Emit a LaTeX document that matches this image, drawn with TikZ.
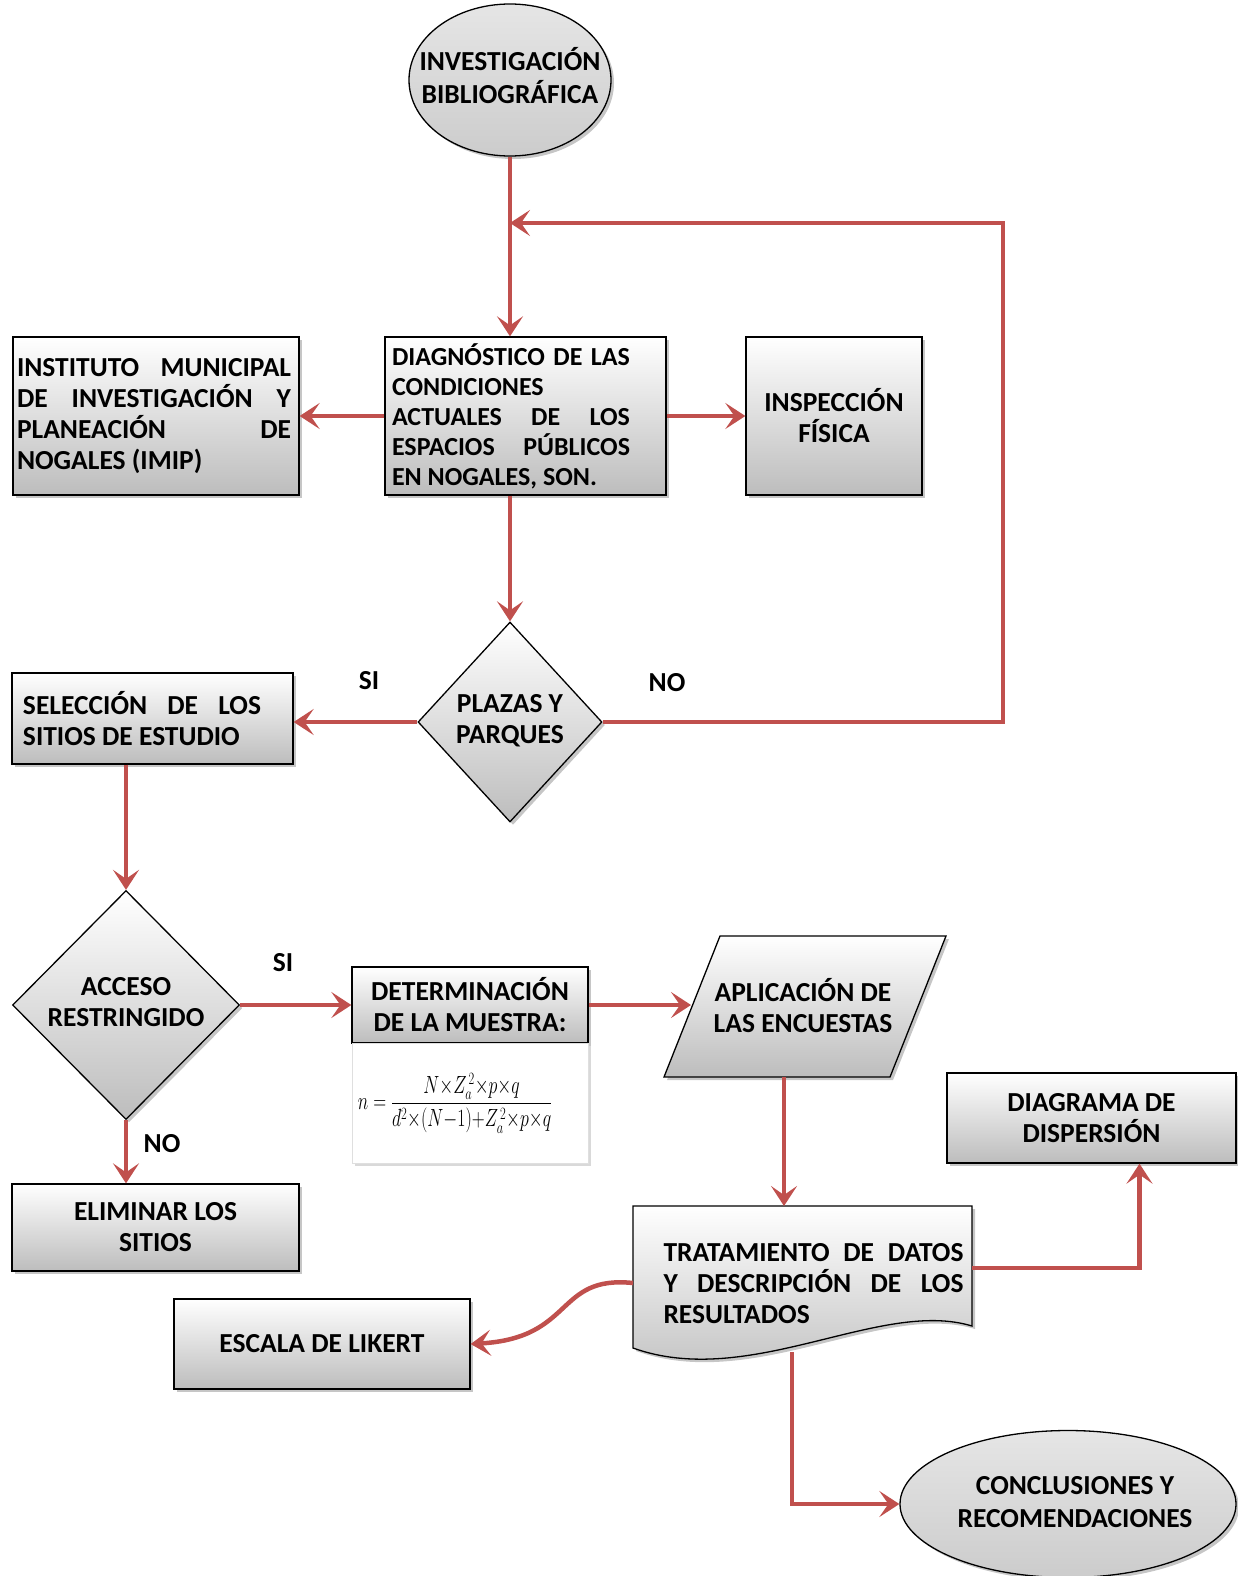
\documentclass[tikz,border=0pt]{standalone}
\usepackage{fontspec}
\setmainfont{Carlito}
\usepackage{amsmath}
\usepackage{graphicx}
\usetikzlibrary{shapes.geometric,arrows.meta,shadows}

\definecolor{arrowred}{RGB}{192,80,77}

% justified block of fixed width, last line left
\newcommand{\jtext}[2]{\parbox{#1}{\leftskip=0pt\rightskip=0pt\parfillskip=0pt plus 1fil\relax #2}}
% centred lines that do not widen the shape round them
\newcommand{\squeeze}[1]{\makebox[0pt]{\begin{tabular}{@{}c@{}}#1\end{tabular}}}

\tikzset{
  txt/.style={font=\fontsize{27.5}{31}\selectfont\bfseries, inner sep=0pt},
  base/.style={txt, draw=black, line width=1.3pt, top color=white, bottom color=gray!52,
    drop shadow={shadow xshift=3pt, shadow yshift=-3pt, opacity=.45}},
  box/.style={base, rectangle},
  oval/.style={base, ellipse, top color=gray!20, bottom color=gray!40,
    font=\fontsize{27.5}{33}\selectfont\bfseries},
  decision/.style={base, diamond},
  conn/.style={draw=arrowred, line width=4.5pt, -{Stealth[length=20pt,width=26pt,inset=9pt]}},
  lbl/.style={txt}
}

\begin{document}
\begin{tikzpicture}[x=1pt, y=-1pt]
    \useasboundingbox (0,0) rectangle (1238,1576);

    \node[oval, minimum width=202, minimum height=152] (inv) at (510,80) {\squeeze{INVESTIGACIÓN\\BIBLIOGRÁFICA}};

    \node[box, minimum width=286, minimum height=158] (imip) at (156,416)
        {\jtext{274pt}{INSTITUTO MUNICIPAL\linebreak DE INVESTIGACIÓN Y\linebreak PLANEACIÓN DE\linebreak NOGALES (IMIP)}\hspace*{4pt}};
    \node[box, minimum width=281, minimum height=158, font=\fontsize{26}{30}\selectfont\bfseries] (diag) at (525.5,416)
        {\jtext{238pt}{DIAGNÓSTICO DE LAS\linebreak CONDICIONES\newline ACTUALES DE LOS\linebreak ESPACIOS PÚBLICOS\linebreak EN NOGALES, SON.}\hspace*{29pt}};
    \node[box, align=center, minimum width=176, minimum height=158] (insp) at (834,416) {INSPECCIÓN\\FÍSICA};

    \node[decision, minimum width=184, minimum height=200] (plazas) at (510,722) {\squeeze{PLAZAS Y\\PARQUES}};
    \node[box, minimum width=281, minimum height=91] (sel) at (152.5,718.5)
        {\jtext{238pt}{SELECCIÓN DE LOS\linebreak SITIOS DE ESTUDIO}\hspace*{21pt}};
    \node[lbl] (si1) at (369,681) {SI};
    \node[lbl] (no1) at (667,683) {NO};

    \node[decision, minimum width=227, minimum height=229] (acceso) at (126,1005) {\squeeze{ACCESO\\RESTRINGIDO}};
    \node[lbl] (si2) at (283,963) {SI};
    \node[lbl] (no2) at (162,1144) {NO};

    \node[box, align=center, minimum width=236, minimum height=76] (det) at (470,1005) {DETERMINACIÓN\\DE LA MUESTRA:};
    \node[draw=gray!25, fill=white, drop shadow={shadow xshift=3pt, shadow yshift=-3pt, opacity=.3},
        minimum width=236, minimum height=120, font=\fontsize{26}{30}\selectfont] (form) at (470,1103)
        {\medmuskip=0mu\scalebox{0.72}[1]{$n=\dfrac{N\times Z_a^{\,2}\times p\times q}{d^2\times\left(N-1\right)+Z_a^{\,2}\times p\times q}$}\hspace*{30pt}};

    \path[base] (720,936) -- (946,936) -- (890,1077) -- (664,1077) -- cycle;
    \node[txt, align=center] (apl) at (803,1006) {APLICACIÓN DE\\LAS ENCUESTAS};
    \coordinate (aplL) at (691,1005);
    \coordinate (aplB) at (784,1077);

    \node[box, align=center, minimum width=287, minimum height=87] (elim) at (155.5,1227.5) {ELIMINAR LOS\\SITIOS};
    \node[box, align=center, minimum width=289, minimum height=90] (disp) at (1091.5,1118) {DIAGRAMA DE\\DISPERSIÓN};
    \node[box, minimum width=296, minimum height=90] (escala) at (322,1344) {ESCALA DE LIKERT};

    \path[base] (633,1206) -- (972,1206) -- (972,1326) .. controls (880,1298) and (750,1390) .. (633,1348) -- cycle;
    \node[txt] (trat) at (806,1284)
        {\hspace*{15pt}\jtext{300pt}{TRATAMIENTO DE DATOS\linebreak Y DESCRIPCIÓN DE LOS\linebreak RESULTADOS}};

    \node[oval, minimum width=336, minimum height=147] (concl) at (1068,1504) {\hspace*{14pt}\squeeze{CONCLUSIONES Y\\RECOMENDACIONES}};

    \coordinate (fb) at (1003,223);
    \coordinate (tratT) at (784,1206);
    \coordinate (tratR) at (972,1268);
    \coordinate (tratL) at (633,1283);
    \coordinate (tratB) at (792,1352);

    \draw[conn] (inv.south) -- (inv.south |- diag.north);
    \draw[conn] (plazas.east) -| (fb) -- (fb -| inv.south);
    \draw[conn] (diag.west) -- (diag.west -| imip.east);
    \draw[conn] (diag.east) -- (diag.east -| insp.west);
    \draw[conn] (plazas.north |- diag.south) -- (plazas.north);
    \draw[conn] (plazas.west) -- (plazas.west -| sel.east);
    \draw[conn] (acceso.north |- sel.south) -- (acceso.north);
    \draw[conn] (acceso.east) -- (acceso.east -| det.west);
    \draw[conn] (det.east) -- (det.east -| aplL);
    \draw[conn] (aplB) -- (tratT);
    \draw[conn] (acceso.south) -- (acceso.south |- elim.north);
    \draw[conn] (tratR) -| ([xshift=48pt]disp.south);
    \draw[conn] (tratL) .. controls (555,1275) and (575,1338) .. (escala.east);
    \draw[conn] (tratB) |- (concl.west);
\end{tikzpicture}
\end{document}
